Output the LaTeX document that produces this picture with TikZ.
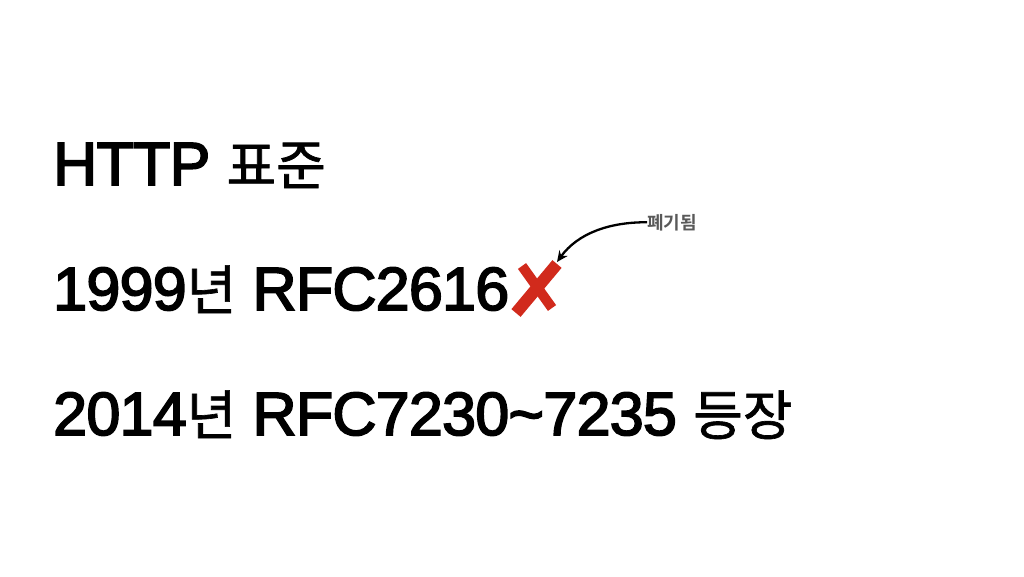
\documentclass[tikz,border=0pt]{standalone}
\usepackage{fontspec}
\setmainfont{Liberation Sans}[FakeBold=2.8, LetterSpace=-1.2]
\newfontfamily\kr{Noto Sans CJK KR}[FakeBold=1.2]
\newfontfamily\krb{Noto Sans CJK KR Bold}
\usetikzlibrary{arrows.meta}
\definecolor{xred}{HTML}{D12A1C}
\definecolor{lblgray}{HTML}{595959}
\newcommand\hg[1]{{\kr\fontsize{54}{54}\selectfont #1}}
\tikzset{
  bigtext/.style={anchor=base west, inner sep=0pt, font=\fontsize{61}{61}\selectfont},
  note/.style={anchor=base west, inner sep=0pt, text=lblgray, font=\krb\fontsize{18}{18}\selectfont},
  xstroke/.style={draw=xred, line cap=butt},
}
\begin{document}
\begin{tikzpicture}[x=1pt,y=-1pt]
\useasboundingbox (0,0) rectangle (1024,576);
\fill[white] (0,0) rectangle (1024,576);
\node[bigtext] (t1) at (53,185) {HTTP \hg{표준}};
\node[bigtext] (t2) at (53,310) {1999\hg{년} RFC2616};
\node[bigtext] (t3) at (53,435) {2014\hg{년} RFC7230\char`~7235 \hg{등장}};
\node[note] (lbl) at (647,229) {폐기됨};
\coordinate (xa1) at (516,313);
\coordinate (xa2) at (557,264);
\coordinate (xb1) at (522,266);
\coordinate (xb2) at (552,308);
\draw[xstroke, line width=10pt] (xb1) -- (xb2);
\draw[xstroke, line width=12pt] (xa1) -- (xa2);
\coordinate (tip) at (557,262);
\draw[line width=2.3pt, -{Stealth[length=11pt,width=10pt]}] (lbl.west) .. controls (610,222) and (578,233) .. (tip);
\end{tikzpicture}
\end{document}
